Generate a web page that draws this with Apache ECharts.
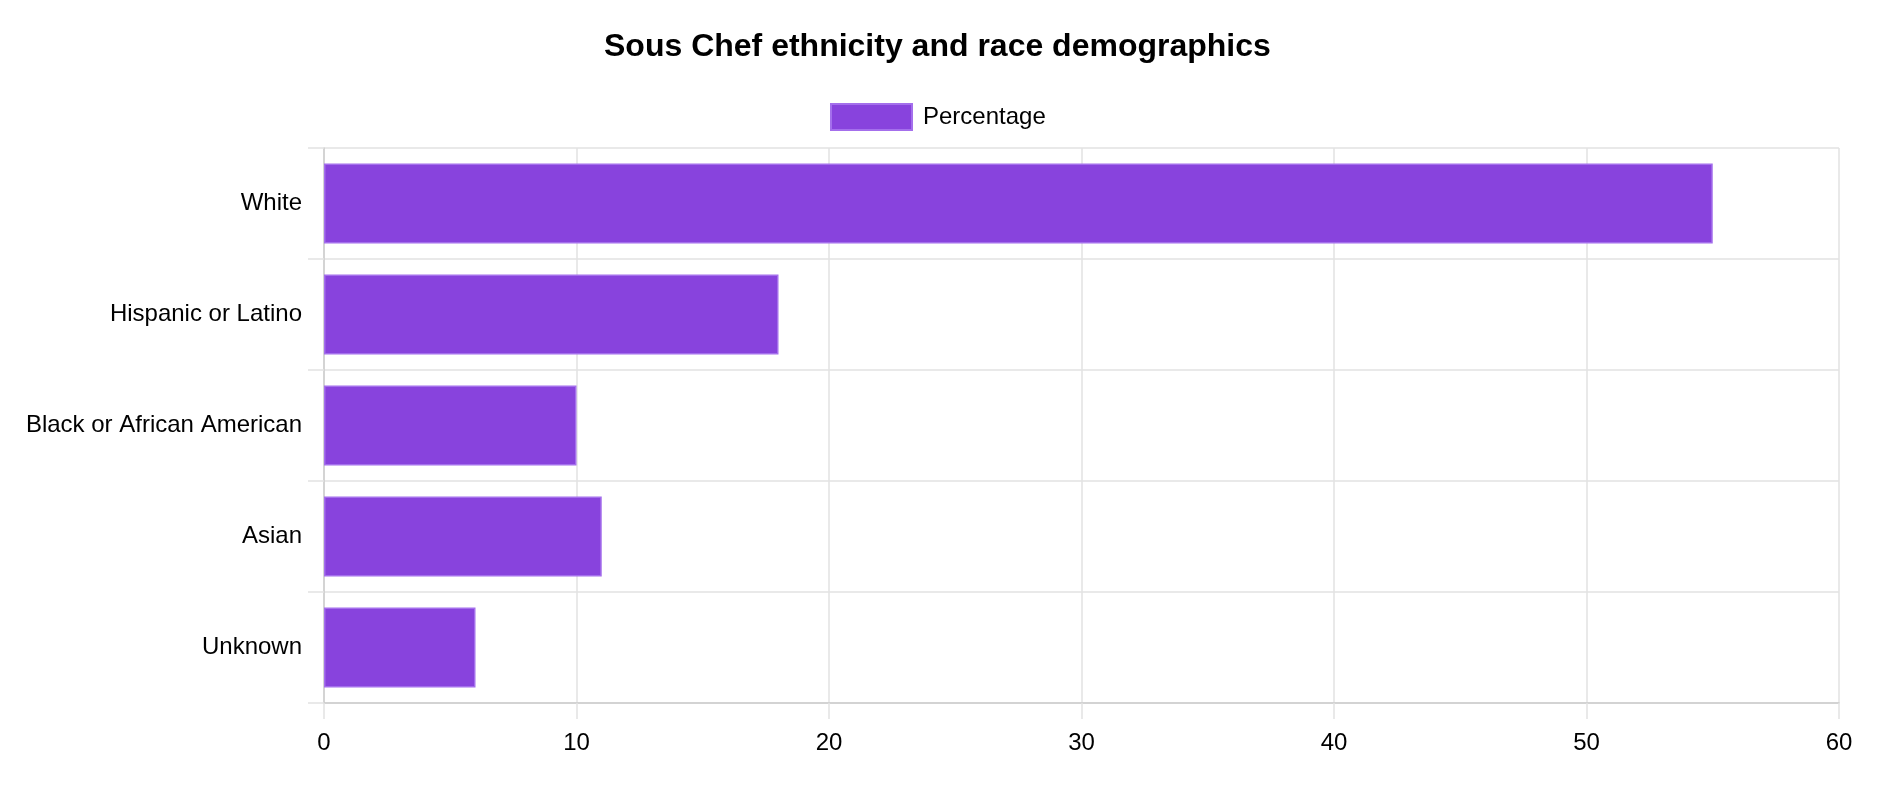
<!DOCTYPE html>
<html>
<head>
<meta charset="utf-8">
<script src="https://cdn.jsdelivr.net/npm/echarts@6/dist/echarts.min.js"></script>
<style>
html,body{margin:0;padding:0;background:#fff;}
#chart{width:1892px;height:812px;}
</style>
</head>
<body>
<div id="chart"></div>
<script>
const categories = ["White", "Hispanic or Latino", "Black or African American", "Asian", "Unknown"];
const percentages = [55, 18, 10, 11, 6];
const xTicks = [0, 10, 20, 30, 40, 50, 60];

const chart = echarts.init(document.getElementById('chart'));
const font = '"Liberation Sans", Arial, Helvetica, sans-serif';
chart.setOption({
  animation: false,
  backgroundColor: '#ffffff',
  title: {
    text: 'Sous Chef ethnicity and race demographics',
    left: 599,
    top: 26,
    textStyle: { fontFamily: font, fontSize: 32, fontWeight: 'bold', color: '#000' }
  },
  legend: {
    data: [{ name: 'Percentage', icon: 'rect' }],
    left: 825,
    top: 98,
    itemWidth: 81,
    itemHeight: 26,
    textStyle: { fontFamily: font, fontSize: 24, color: '#000', padding: [0, 0, 0, 6] }
  },
  grid: { left: 324, right: 53, top: 148, bottom: 109, containLabel: false },
  xAxis: {
    type: 'value',
    min: xTicks[0],
    max: xTicks[xTicks.length - 1],
    interval: 10,
    axisLine: { show: true, lineStyle: { color: '#cccccc', width: 1.5 } },
    axisTick: { show: true, length: 16, lineStyle: { color: '#e2e2e2', width: 1.5 } },
    axisLabel: { fontFamily: font, fontSize: 24, color: '#000', margin: 28 },
    splitLine: { show: true, lineStyle: { color: '#e2e2e2', width: 1.5 } }
  },
  yAxis: {
    type: 'category',
    data: categories,
    inverse: true,
    axisLine: { show: true, lineStyle: { color: '#cccccc', width: 1.5 } },
    axisTick: { show: true, length: 16, lineStyle: { color: '#e2e2e2', width: 1.5 } },
    axisLabel: { fontFamily: font, fontSize: 24, color: '#000', margin: 22 },
    splitLine: { show: true, lineStyle: { color: '#e2e2e2', width: 1.5 } }
  },
  series: [{
    name: 'Percentage',
    type: 'bar',
    data: percentages,
    barCategoryGap: '28%',
    itemStyle: { color: '#8843DD', borderColor: '#A46FEC', borderWidth: 1.5 }
  }]
});
</script>
</body>
</html>
